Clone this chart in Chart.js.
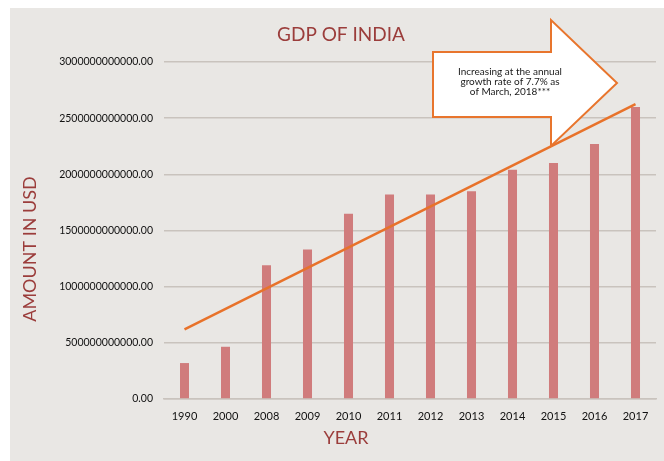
<!DOCTYPE html>
<html>
<head>
<meta charset="utf-8">
<title>GDP of India</title>
<script src="https://cdn.jsdelivr.net/npm/chart.js@4.4.1/dist/chart.umd.min.js"></script>
<style>
  html, body { margin: 0; padding: 0; background: #ffffff; }
  #wrap {
    position: absolute; left: 10px; top: 8px;
    width: 654px; height: 453px;
    background: #e9e7e4;
  }
</style>
</head>
<body>
<div id="wrap"><canvas id="chart1"></canvas></div>
<script>
// data (USD)
const years = ['1990', '2000', '2008', '2009', '2010', '2011', '2012', '2013', '2014', '2015', '2016', '2017'];
const gdp = [320e9, 465e9, 1190e9, 1330e9, 1650e9, 1820e9, 1820e9, 1850e9, 2040e9, 2100e9, 2270e9, 2600e9];
// trend line: only its two ends are known, the gap is spanned straight
const trend = [620e9, null, null, null, null, null, null, null, null, null, null, 2625e9];
const yTicks = [0, 500e9, 1000e9, 1500e9, 2000e9, 2500e9, 3000e9];
const arrowNote = ['Increasing at the annual', 'growth rate of 7.7% as', 'of March, 2018***'];

const darkRed = '#9b3d3b';

// titles sit a bit off-centre in the original, so draw them here
const extras = {
  id: 'extras',
  afterDatasetsDraw(chart) {
    const c = chart.ctx;
    c.save();
    c.fillStyle = darkRed;
    c.textAlign = 'center';
    c.textBaseline = 'middle';
    c.font = '19px Lato';
    c.fillText('GDP OF INDIA', 331, 27);
    c.font = '18px Lato';
    c.fillText('YEAR', 336, 430);
    c.translate(20, 241);
    c.rotate(-Math.PI / 2);
    c.fillText('AMOUNT IN USD', 0, 0);
    c.restore();

    // the block arrow note
    c.save();
    c.beginPath();
    c.moveTo(423, 44);
    c.lineTo(541, 44);
    c.lineTo(541, 12);
    c.lineTo(607, 75);
    c.lineTo(541, 138);
    c.lineTo(541, 109);
    c.lineTo(423, 109);
    c.closePath();
    c.fillStyle = '#ffffff';
    c.fill();
    c.strokeStyle = '#e8752d';
    c.lineWidth = 2;
    c.stroke();
    c.fillStyle = '#1a1a1a';
    c.font = '10px Lato';
    c.textAlign = 'center';
    c.textBaseline = 'middle';
    arrowNote.forEach((t, i) => c.fillText(t, 500, 64 + i * 10));
    c.restore();
  }
};

const ctx = document.getElementById('chart1').getContext('2d');
const chart = new Chart(ctx, {
  type: 'bar',
  data: {
    labels: years,
    datasets: [{
      type: 'line',
      label: 'Trend',
      data: trend,
      borderColor: '#e8722a',
      borderWidth: 2.5,
      pointRadius: 0,
      spanGaps: true,
      fill: false
    }, {
      label: 'GDP',
      data: gdp,
      backgroundColor: '#d07c7c',
      barPercentage: 0.22,
      categoryPercentage: 1
    }]
  },
  plugins: [extras],
  options: {
    responsive: true,
    maintainAspectRatio: false,
    animation: false,
    layout: { padding: { left: 0, right: 8, top: 54, bottom: 0 } },
    plugins: {
      legend: { display: false },
      tooltip: { enabled: false },
      title: { display: false }
    },
    scales: {
      x: {
        grid: { display: false, drawTicks: false },
        border: { display: true, color: '#c9c3bd', width: 1.5 },
        ticks: { color: '#111', font: { family: 'Lato', size: 11 }, padding: 11, maxRotation: 0 },
        afterFit(scale) { scale.height = 62; }
      },
      y: {
        min: 0,
        max: 3000e9,
        afterBuildTicks(scale) { scale.ticks = yTicks.map(v => ({ value: v })); },
        grid: { color: '#c9c3bd', lineWidth: 1.5, drawTicks: false },
        border: { display: false },
        ticks: {
          color: '#111',
          font: { family: 'Lato', size: 10.5 },
          padding: 11,
          callback: v => Number(v).toFixed(2)
        },
        afterFit(scale) { scale.width = 154; }
      }
    }
  }
});
</script>
</body>
</html>
